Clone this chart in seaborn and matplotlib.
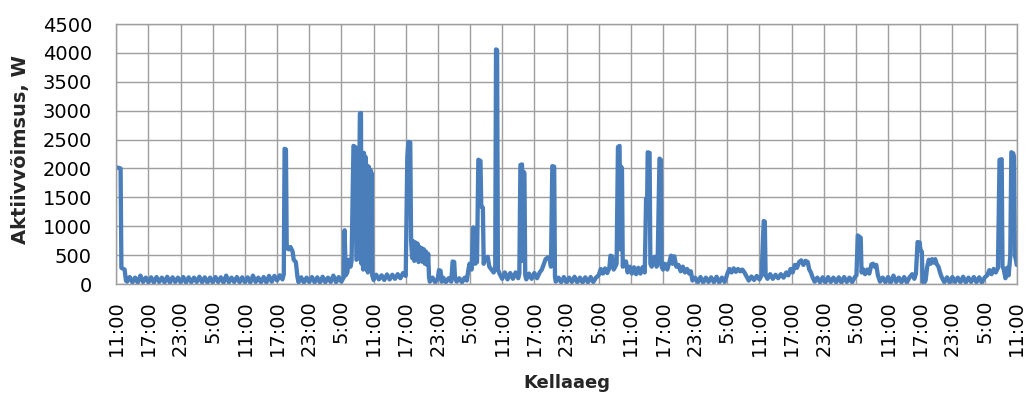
import matplotlib
matplotlib.use("Agg")
import matplotlib.pyplot as plt
import numpy as np
import pandas as pd
import seaborn as sns

# Active power readings, (hours since the first 11:00, watts), one list per day
day1 = [(0.0, 2020), (0.8, 2000), (0.95, 280), (1.55, 250), (1.8, 60), (2.0, 40), (2.5, 120),
        (3.0, 30), (3.5, 110), (4.0, 25), (4.5, 145), (5.0, 35), (5.5, 110), (6.0, 30), (6.5, 115),
        (7.0, 25), (7.5, 120), (8.0, 35), (8.5, 110), (9.0, 30), (9.5, 125), (10.0, 25), (10.5, 115),
        (11.0, 35), (11.5, 110), (12.0, 30), (12.5, 120), (13.0, 25), (13.5, 115), (14.0, 30),
        (14.5, 110), (15.0, 35), (15.5, 125), (16.0, 30), (16.5, 115), (17.0, 25), (17.5, 110),
        (18.0, 30), (18.5, 120), (19.0, 35), (19.5, 115), (20.0, 25), (20.5, 145), (21.0, 30),
        (21.5, 110), (22.0, 35), (22.5, 120), (23.0, 30), (23.5, 115)]

day2 = [(24.0, 30), (24.5, 115), (25.0, 25), (25.5, 145), (26.0, 35), (26.5, 110), (27.0, 30),
        (27.5, 120), (28.0, 25), (28.5, 140), (29.0, 40), (29.5, 140), (30.0, 60), (30.5, 150),
        (31.0, 80), (31.25, 170), (31.4, 2340), (31.65, 2330), (31.8, 620), (32.2, 600), (32.5, 640),
        (32.9, 560), (33.1, 420), (33.5, 380), (33.8, 120), (34.0, 30), (34.5, 115), (35.0, 25),
        (35.5, 110), (36.0, 35), (36.5, 120), (37.0, 30), (37.5, 115), (38.0, 25), (38.5, 125),
        (39.0, 30), (39.5, 110), (40.0, 35), (40.5, 145), (41.0, 30), (41.5, 120), (42.0, 40),
        (42.45, 120), (42.6, 930), (42.8, 150), (43.1, 200), (43.4, 420), (43.7, 300), (43.9, 400),
        (44.25, 2390), (44.6, 2370), (44.8, 420), (45.2, 450), (45.45, 2950), (45.65, 2960),
        (45.75, 350), (45.9, 2250), (46.05, 250), (46.2, 2270), (46.35, 300), (46.5, 2200),
        (46.65, 250), (46.8, 2050), (46.95, 200), (47.1, 2030), (47.25, 300), (47.4, 1980),
        (47.55, 250), (47.65, 1920), (47.75, 150)]

day3 = [(48.0, 70), (48.5, 160), (49.0, 80), (49.5, 150), (50.0, 70), (50.5, 165), (51.0, 80),
        (51.5, 160), (52.0, 90), (52.5, 170), (53.0, 100), (53.5, 190), (54.0, 140), (54.3, 2200),
        (54.5, 2460), (54.85, 2450), (55.0, 750), (55.2, 450), (55.4, 740), (55.6, 400), (55.8, 720),
        (56.0, 420), (56.2, 700), (56.4, 380), (56.6, 640), (56.8, 400), (57.0, 620), (57.2, 380),
        (57.4, 600), (57.6, 350), (57.8, 560), (58.0, 330), (58.2, 520), (58.35, 120), (58.5, 40),
        (59.0, 110), (59.5, 30), (60.0, 100), (60.2, 240), (60.5, 230), (60.7, 40), (61.0, 110),
        (61.5, 30), (62.0, 100), (62.5, 40), (62.75, 390), (63.05, 380), (63.2, 100), (63.5, 40),
        (64.0, 100), (64.5, 30), (65.0, 110), (65.4, 60), (65.7, 250), (65.9, 350), (66.1, 300),
        (66.3, 250), (66.6, 980), (66.8, 960), (66.95, 350), (67.3, 380), (67.55, 2150),
        (67.95, 2130), (68.1, 1340), (68.4, 1320), (68.55, 350), (68.8, 450), (69.3, 470),
        (69.6, 300), (70.0, 250), (70.4, 200), (70.7, 260), (70.85, 4060), (71.05, 4050),
        (71.2, 250), (71.5, 180)]

day4 = [(72.0, 90), (72.5, 200), (73.0, 80), (73.5, 190), (74.0, 90), (74.5, 200), (75.0, 100),
        (75.2, 180), (75.4, 2060), (75.7, 2070), (75.85, 400), (76.0, 1940), (76.15, 1920),
        (76.3, 150), (76.5, 80), (77.0, 180), (77.5, 90), (78.0, 190), (78.5, 100), (79.0, 200),
        (79.4, 250), (79.8, 350), (80.1, 430), (80.5, 460), (80.9, 420), (81.1, 300), (81.35, 2040),
        (81.7, 2030), (81.85, 120), (82.0, 40), (82.5, 110), (83.0, 30), (83.5, 120), (84.0, 25),
        (84.5, 110), (85.0, 35), (85.5, 125), (86.0, 30), (86.5, 110), (87.0, 25), (87.5, 115),
        (88.0, 30), (88.5, 120), (89.0, 35), (89.5, 110), (90.0, 150), (90.4, 260), (90.8, 180),
        (91.2, 270), (91.6, 190), (92.0, 280), (92.2, 490), (92.5, 480), (92.8, 250), (93.1, 300),
        (93.35, 350), (93.6, 2370), (93.9, 2390), (94.05, 600), (94.2, 2030), (94.35, 2000),
        (94.5, 300), (94.8, 380), (95.1, 390), (95.4, 200), (95.8, 300)]

day5 = [(96.2, 180), (96.6, 290), (97.0, 170), (97.4, 280), (97.8, 180), (98.2, 290), (98.6, 200),
        (98.85, 1480), (99.05, 1470), (99.15, 2280), (99.5, 2270), (99.65, 350), (99.9, 300),
        (100.2, 450), (100.5, 470), (100.8, 300), (101.0, 350), (101.35, 2170), (101.6, 2150),
        (101.75, 300), (102.0, 250), (102.4, 350), (102.8, 250), (103.2, 380), (103.5, 490),
        (103.8, 350), (104.1, 480), (104.5, 300), (104.9, 330), (105.3, 220), (105.7, 300),
        (106.1, 200), (106.5, 260), (106.9, 180), (107.2, 220), (107.5, 60), (108.0, 110),
        (108.5, 30), (109.0, 120), (109.5, 25), (110.0, 110), (110.5, 35), (111.0, 115), (111.5, 30),
        (112.0, 125), (112.5, 25), (113.0, 110), (113.5, 35), (114.1, 200), (114.4, 260),
        (114.8, 200), (115.2, 270), (115.6, 210), (116.0, 260), (116.4, 220), (116.8, 250),
        (117.2, 200), (117.6, 130), (118.0, 60), (118.5, 130), (119.0, 70), (119.5, 140)]

day6 = [(120.0, 80), (120.4, 150), (120.8, 1090), (121.0, 1080), (121.15, 150), (121.5, 90),
        (122.0, 170), (122.5, 90), (123.0, 160), (123.5, 100), (124.0, 170), (124.5, 110),
        (125.0, 200), (125.4, 150), (125.8, 260), (126.2, 200), (126.6, 330), (127.0, 280),
        (127.4, 380), (127.8, 410), (128.2, 330), (128.6, 400), (129.0, 380), (129.3, 250),
        (129.6, 200), (129.9, 120), (130.3, 40), (130.8, 110), (131.3, 30), (131.8, 115),
        (132.3, 25), (132.8, 120), (133.3, 35), (133.8, 110), (134.3, 30), (134.8, 115), (135.3, 25),
        (135.8, 120), (136.3, 35), (136.8, 110), (137.3, 30), (137.8, 120), (138.1, 150),
        (138.35, 840), (138.9, 800), (139.05, 200), (139.3, 260), (139.7, 170), (140.1, 250),
        (140.5, 180), (140.9, 340), (141.2, 350), (141.5, 300), (141.8, 330), (142.1, 150),
        (142.5, 40), (143.0, 110), (143.5, 30)]

day7 = [(144.0, 120), (144.5, 25), (145.0, 145), (145.5, 35), (146.0, 110), (146.5, 30),
        (147.0, 120), (147.5, 25), (148.0, 115), (148.5, 170), (148.9, 90), (149.2, 180),
        (149.5, 725), (149.9, 720), (150.05, 580), (150.3, 560), (150.45, 40), (150.7, 20),
        (151.0, 60), (151.3, 300), (151.6, 420), (151.9, 350), (152.2, 430), (152.5, 370),
        (152.8, 430), (153.1, 340), (153.4, 300), (153.7, 200), (154.0, 120), (154.5, 30),
        (155.0, 115), (155.5, 25), (156.0, 120), (156.5, 35), (157.0, 110), (157.5, 30),
        (158.0, 125), (158.5, 25), (159.0, 110), (159.5, 35), (160.0, 120), (160.5, 30),
        (161.0, 115), (161.5, 25), (162.0, 110), (162.5, 150), (162.9, 240), (163.3, 170),
        (163.7, 260), (164.1, 200), (164.5, 280), (164.8, 2150), (165.2, 2160), (165.35, 300),
        (165.6, 250), (165.9, 100), (166.2, 280), (166.5, 150), (166.8, 480), (167.0, 2280),
        (167.35, 2260), (167.5, 2200), (167.65, 500), (167.85, 420), (168.0, 330)]

tick_hours = list(range(0, 169, 6))
tick_labels = ["11:00", "17:00", "23:00", "5:00", "11:00", "17:00", "23:00", "5:00",
               "11:00", "17:00", "23:00", "5:00", "11:00", "17:00", "23:00", "5:00",
               "11:00", "17:00", "23:00", "5:00", "11:00", "17:00", "23:00", "5:00",
               "11:00", "17:00", "23:00", "5:00", "11:00"]
power_ticks = list(range(0, 4501, 500))

sns.set_theme(style="white")
plt.rcParams["font.family"] = ["DejaVu Sans"]

readings = pd.DataFrame(day1 + day2 + day3 + day4 + day5 + day6 + day7,
                        columns=["hours", "watts"])

GRID = "#9E9E9E"
LINE = "#4A7EBB"

fig = plt.figure(figsize=(10.29, 3.93), dpi=100)
ax = fig.add_axes([116.3 / 1029, 1 - 284 / 393, 900.4 / 1029, 260 / 393])

sns.lineplot(data=readings, x="hours", y="watts", ax=ax, color=LINE,
             linewidth=3.1, estimator=None, sort=False)
for ln in ax.lines:
    ln.set_solid_joinstyle("round")
    ln.set_solid_capstyle("round")

ax.set_xlim(0, 168)
ax.set_ylim(0, 4500)
ax.set_xticks(tick_hours)
ax.set_xticklabels(tick_labels, rotation=90, fontsize=14)
ax.set_yticks(power_ticks)
ax.set_yticklabels([str(v) for v in power_ticks], fontsize=14)
ax.grid(True, color=GRID, linewidth=1)
ax.set_axisbelow(True)
for sp in ax.spines.values():
    sp.set_color(GRID)
    sp.set_linewidth(1)
ax.tick_params(axis="y", length=6.5, width=1, color=GRID, pad=11, labelcolor="black")
ax.tick_params(axis="x", length=5.5, width=1, color=GRID, pad=6, labelcolor="black")
ax.set_xlabel("")
ax.set_ylabel("")

fig.text(20.5 / 1029, 1 - 150 / 393, "Aktiivvõimsus, W", rotation=90, ha="center",
         va="center", fontsize=14, fontweight="bold")
fig.text(566.5 / 1029, 1 - 388 / 393, "Kellaaeg", ha="center", va="baseline",
         fontsize=13, fontweight="bold")

fig.savefig("out.png", dpi=100)
